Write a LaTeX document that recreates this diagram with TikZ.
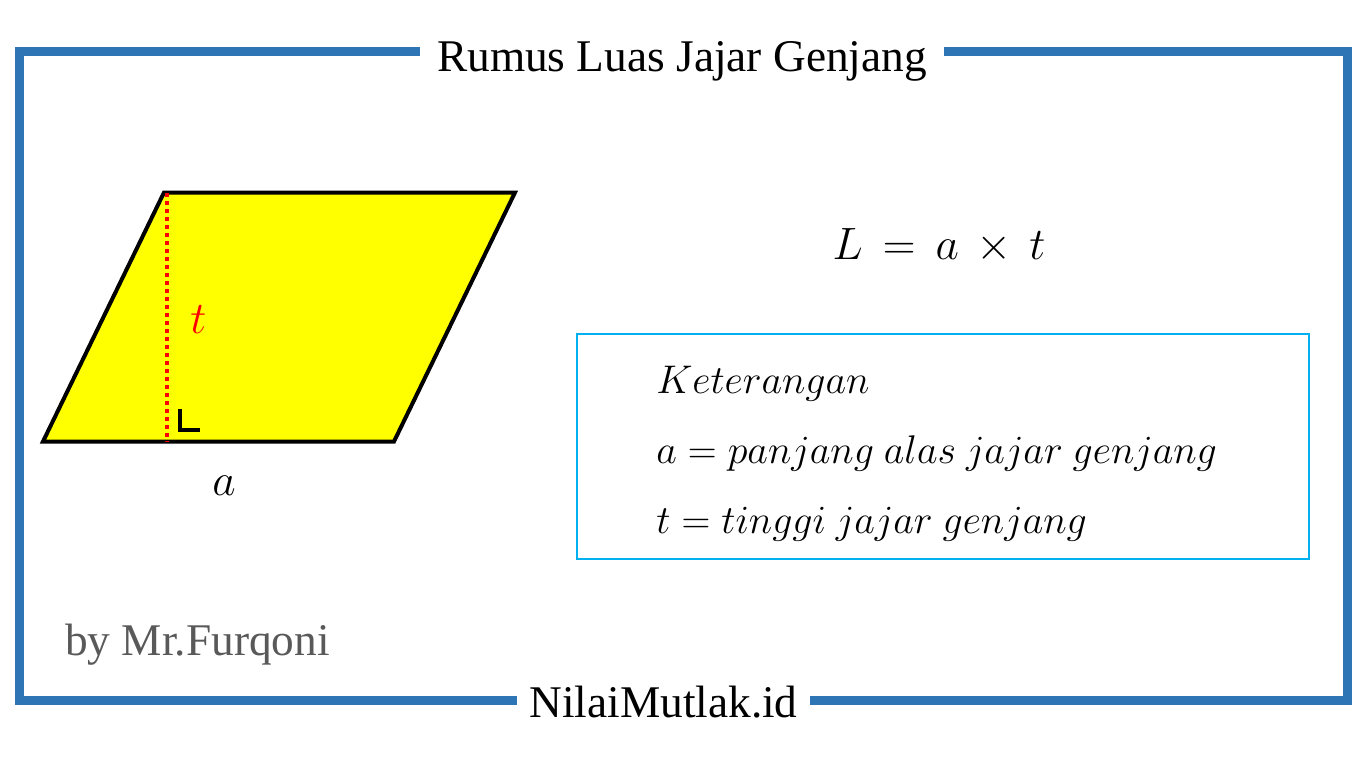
\documentclass[tikz,border=0pt]{standalone}
\usepackage{fix-cm}
\usepackage[no-math]{fontspec}
\setmainfont{Liberation Serif}
\usepackage{tikz}
\usetikzlibrary{positioning}

\definecolor{framecol}{RGB}{46,117,182}
\definecolor{boxcol}{RGB}{0,176,240}
\definecolor{bygray}{RGB}{89,89,89}
\definecolor{fillyel}{RGB}{255,255,0}
\definecolor{hred}{RGB}{255,0,0}

\tikzset{
  framestyle/.style={draw=framecol, line width=6.75pt},
  headtext/.style={font=\fontsize{34}{40}\selectfont, inner ysep=0pt},
  bigmath/.style={font=\fontsize{34}{40}\selectfont, inner sep=0pt},
  infotext/.style={font=\fontsize{30}{35}\selectfont, inner sep=0pt, anchor=base west}
}

\begin{document}
\begin{tikzpicture}[x=0.75pt,y=-0.75pt]
  % Fix the page size
  \fill[white] (0,0) rectangle (1366,768);
  \useasboundingbox (0,0) rectangle (1366,768);

  % Title and footer
  \node[headtext, inner xsep=13pt, anchor=base] (title) at (682,71) {Rumus Luas Jajar Genjang};
  \node[headtext, inner xsep=9pt, anchor=base] (footer) at (663.5,717) {NilaiMutlak.id};

  % Define the corners of the frame
  \coordinate (tl) at (19.5,51);
  \coordinate (tr) at (1347,51);
  \coordinate (bl) at (19.5,700);
  \coordinate (br) at (1347,700);

  % Draw the frame
  \draw[framestyle] (tl -| title.west) -- (tl) -- (bl) -- (bl -| footer.west);
  \draw[framestyle] (tl -| title.east) -- (tr) -- (br) -- (bl -| footer.east);

  % Define the vertices of the parallelogram
  \coordinate (A) at (43,441.5);
  \coordinate (B) at (394,441.5);
  \coordinate (C) at (515,192.5);
  \coordinate (D) at (164,192.5);

  % Draw the parallelogram
  \draw[fill=fillyel, line width=3pt] (A) -- (B) -- (C) -- (D) -- cycle;

  % Draw the height
  \coordinate (H) at (167,192.5);
  \coordinate (F) at (167,441.5);
  \draw[hred, line width=3pt, dash pattern=on 3pt off 3pt] (H) -- (F);
  \coordinate (R1) at (180.3,409);
  \coordinate (R2) at (180.3,430);
  \coordinate (R3) at (200,430);
  \draw[line width=3pt] (R1) -- (R2) -- (R3);

  % Label the sides
  \node[bigmath, hred, anchor=base west] (tlabel) at (190,333) {$t$};
  \node[bigmath, anchor=base west] (alabel) at (212,495) {$a$};

  % Formula
  \node[bigmath, anchor=base] (formula) at (939,259) {$L\,=\,a\,\times\,t$};

  % Explanation box
  \draw[boxcol, line width=0.9pt] (577,334) rectangle (1309,559);
  \node[infotext] (ket) at (656,393) {$Keterangan$};
  \node[infotext] (keta) at (656,463) {$a = panjang\ alas\ jajar\ genjang$};
  \node[infotext] (kett) at (656,533) {$t = tinggi\ jajar\ genjang$};

  % Author
  \node[headtext, bygray, inner sep=0pt, anchor=base west] (author) at (65,655) {by Mr.Furqoni};
\end{tikzpicture}
\end{document}
